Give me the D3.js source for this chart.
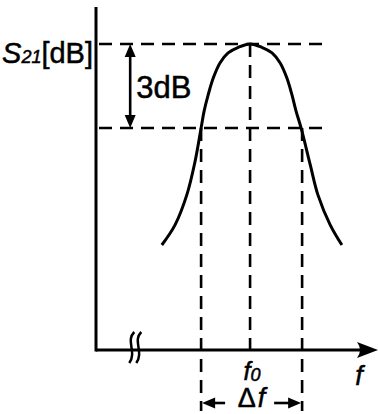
<!doctype html>
<html>
<head>
<meta charset="utf-8">
<title>S21 bandwidth</title>
<script src="https://d3js.org/d3.v7.min.js"></script>
<style>
  html, body { margin: 0; padding: 0; background: #fff; }
  svg { display: block; font-family: "Liberation Sans", Arial, sans-serif; }
  text { stroke: #000; stroke-width: 0.5; }
</style>
</head>
<body>
<div id="chart"></div>
<script>
// relative frequency (f - f0) in units of half the 3dB bandwidth, and S21 in dB (peak = 0)
const freq = [-1.73, -1.47, -1.24, -1.08, -0.96, -0.90, -0.82, -0.72, -0.59, -0.43, -0.23, 0,
              0.23, 0.43, 0.59, 0.72, 0.82, 0.90, 1.0, 1.18, 1.33, 1.57, 1.80];
const s21  = [-7.18, -6.46, -5.39, -4.21, -3.0, -2.39, -1.81, -1.21, -0.68, -0.32, -0.12, 0,
              -0.12, -0.32, -0.68, -1.21, -1.81, -2.39, -3.0, -4.32, -5.39, -6.46, -7.18];

const f0 = 0;
const bandEdges = [-0.96, 1.02];     // dashed verticals at the -3dB points
const levels = [0, -3];              // peak and -3dB
const xDomain = [-3.02, 2.39];
const yDomain = [-10.93, 1.32];
const dashEnd = 1.47;                // right end of the horizontal guide lines
const breakAt = -2.27;               // axis break mark

const W = 378, H = 414;
const x = d3.scaleLinear().domain(xDomain).range([96, 372]);
const y = d3.scaleLinear().domain(yDomain).range([350, 7]);

const svg = d3.select('#chart').append('svg')
  .attr('width', W).attr('height', H);

const ink = '#000';
const dash = '13,8';

// horizontal guide lines (peak and -3dB)
svg.selectAll('.hguide').data(levels).join('line')
  .attr('class', 'hguide')
  .attr('x1', x(xDomain[0]) + 3).attr('x2', x(dashEnd))
  .attr('y1', d => y(d)).attr('y2', d => y(d))
  .attr('stroke', ink).attr('stroke-width', 2.6)
  .attr('stroke-dasharray', dash);

// vertical guide at f0
svg.append('line')
  .attr('x1', x(f0)).attr('x2', x(f0))
  .attr('y1', y(0)).attr('y2', y(yDomain[0]))
  .attr('stroke', ink).attr('stroke-width', 2.6)
  .attr('stroke-dasharray', dash);

// vertical guides at band edges, running below the axis to the bandwidth arrow
svg.selectAll('.vguide').data(bandEdges).join('line')
  .attr('class', 'vguide')
  .attr('x1', d => x(d)).attr('x2', d => x(d))
  .attr('y1', y(-3)).attr('y2', y(yDomain[0]) + 61)
  .attr('stroke', ink).attr('stroke-width', 2.6)
  .attr('stroke-dasharray', dash);

// axes
svg.append('line')
  .attr('x1', x(xDomain[0])).attr('x2', x(xDomain[0]))
  .attr('y1', y(yDomain[1])).attr('y2', y(yDomain[0]) + 1.5)
  .attr('stroke', ink).attr('stroke-width', 3);
svg.append('line')
  .attr('x1', x(xDomain[0])).attr('x2', x(xDomain[1]) - 8)
  .attr('y1', y(yDomain[0])).attr('y2', y(yDomain[0]))
  .attr('stroke', ink).attr('stroke-width', 3);

// x axis arrow head
const ax = x(xDomain[1]) + 6, ay = y(yDomain[0]);
svg.append('path')
  .attr('d', `M${ax},${ay} L${ax - 21},${ay - 8} Q${ax - 15},${ay} ${ax - 21},${ay + 8} Z`)
  .attr('fill', ink);

// axis break mark
const bx = x(breakAt), by = y(yDomain[0]);
[-3, 4].forEach(o => {
  const cx = bx + o;
  svg.append('path')
    .attr('d', `M${cx + 3},${by - 18} C${cx - 6},${by - 9} ${cx + 6},${by + 2} ${cx - 2},${by + 13}`)
    .attr('fill', 'none').attr('stroke', ink).attr('stroke-width', 2.5);
});

// the response curve
const line = d3.line()
  .x((d, i) => x(freq[i]))
  .y(d => y(d))
  .curve(d3.curveCatmullRom.alpha(0.5));

svg.append('path')
  .datum(s21)
  .attr('d', line)
  .attr('fill', 'none')
  .attr('stroke', ink)
  .attr('stroke-width', 3);

// 3dB double arrow
const a3x = x(-2.35);
function arrowHead(px, py, dir, horizontal) {
  // dir = +1 points down/right, -1 points up/left
  const L = 13, w = 5.5;
  const p = horizontal
    ? `M${px},${py} L${px - dir * L},${py - w} L${px - dir * L},${py + w} Z`
    : `M${px},${py} L${px - w},${py - dir * L} L${px + w},${py - dir * L} Z`;
  svg.append('path').attr('d', p).attr('fill', ink);
}
svg.append('line')
  .attr('x1', a3x).attr('x2', a3x)
  .attr('y1', y(0) + 8).attr('y2', y(-3) - 8)
  .attr('stroke', ink).attr('stroke-width', 2.6);
arrowHead(a3x, y(0), -1, false);
arrowHead(a3x, y(-3), 1, false);

svg.append('text')
  .attr('x', a3x + 6).attr('y', 98)
  .attr('font-size', 31)
  .attr('fill', ink)
  .text('3dB');

// y label
const ylab = svg.append('text')
  .attr('x', 93).attr('y', 63)
  .attr('text-anchor', 'end')
  .attr('font-size', 29)
  .attr('fill', ink);
ylab.append('tspan').attr('font-style', 'italic').text('S');
ylab.append('tspan').attr('font-style', 'italic').attr('font-size', 18).text('21');
ylab.append('tspan').text('[dB]');

// f0 label
const f0lab = svg.append('text')
  .attr('x', x(f0) + 2).attr('y', 380)
  .attr('text-anchor', 'middle')
  .attr('font-style', 'italic')
  .attr('font-size', 25)
  .attr('fill', ink);
f0lab.append('tspan').text('f');
f0lab.append('tspan').attr('font-size', 18).attr('dy', 1).text('0');

// f axis label
svg.append('text')
  .attr('x', 359).attr('y', 385)
  .attr('text-anchor', 'middle')
  .attr('font-style', 'italic')
  .attr('font-size', 27)
  .attr('fill', ink)
  .text('f');

// bandwidth arrow
const dy0 = 403;
const bl = x(bandEdges[0]), br = x(bandEdges[1]);
svg.append('line').attr('x1', bl + 6).attr('x2', bl + 24).attr('y1', dy0).attr('y2', dy0)
  .attr('stroke', ink).attr('stroke-width', 2.6);
svg.append('line').attr('x1', br - 28).attr('x2', br - 6).attr('y1', dy0).attr('y2', dy0)
  .attr('stroke', ink).attr('stroke-width', 2.6);
arrowHead(bl + 1, dy0, -1, true);
arrowHead(br - 1, dy0, 1, true);

const dlab = svg.append('text')
  .attr('x', (bl + br) / 2).attr('y', 407)
  .attr('text-anchor', 'middle')
  .attr('font-size', 27)
  .attr('fill', ink);
dlab.append('tspan').text('\u0394');
dlab.append('tspan').attr('font-style', 'italic').attr('dx', 2).text('f');
</script>
</body>
</html>
